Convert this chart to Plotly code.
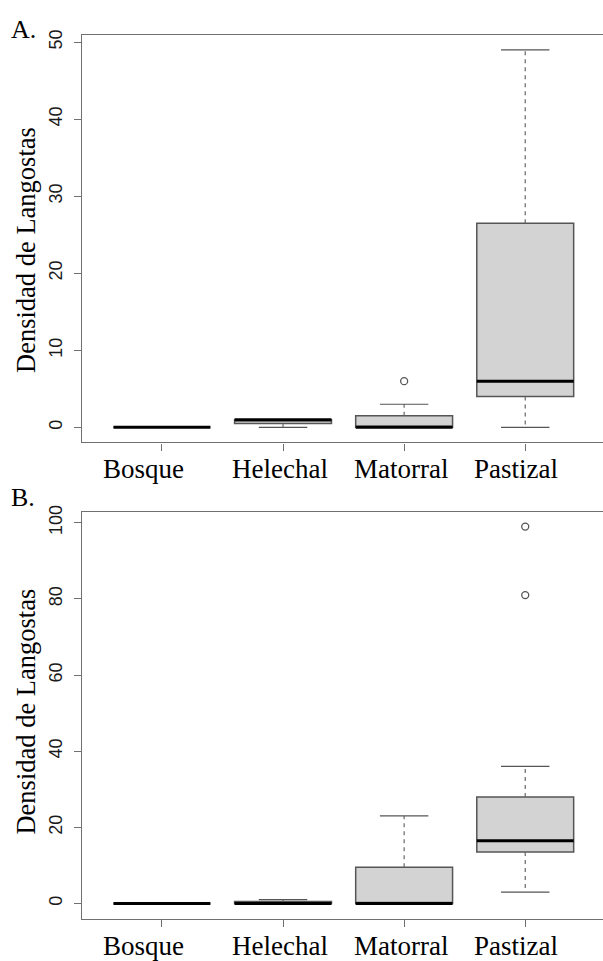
import plotly.graph_objects as go

# ---------------- data ----------------
categories = ["Bosque", "Helechal", "Matorral", "Pastizal"]
positions = [1, 2, 3, 4]

# Panel A
a_q1 = [0, 0.5, 0, 4]
a_median = [0, 1, 0, 6]
a_q3 = [0, 1, 1.5, 26.5]
a_lower = [0, 0, 0, 0]
a_upper = [0, 1, 3, 49]
a_out_x = [3]
a_out_y = [6]

# Panel B
b_q1 = [0, 0, 0, 13.5]
b_median = [0, 0, 0, 16.5]
b_q3 = [0, 0.5, 9.5, 28]
b_lower = [0, 0, 0, 3]
b_upper = [0, 1, 23, 36]
b_out_x = [4, 4]
b_out_y = [99, 81]

y_ticks_a = [0, 10, 20, 30, 40, 50]
y_ticks_b = [0, 20, 40, 60, 80, 100]
y_title = "Densidad de Langostas"
panel_labels = ["A.", "B."]

# ---------------- style ----------------
W, H = 603, 961
BOXW = 0.8
STAPLE = 0.4
FILL = "#d3d3d3"
EDGE = "#555555"
WHISK = "#666666"
FRAME = "#707070"
SERIF = "Liberation Serif, Times New Roman, serif"
SANS = "Liberation Sans, Arial, sans-serif"


def seg_lists(xs, y0s, y1s, half=None):
    X, Y = [], []
    for x, a, b in zip(xs, y0s, y1s):
        if half is None:
            X += [x, x, None]
            Y += [a, b, None]
        else:
            X += [x - half, x + half, None]
            Y += [a, a, None]
    return X, Y


fig = go.Figure()


def add_panel(xa, ya, q1, med, q3, lo, up, ox, oy):
    # boxes
    fig.add_trace(go.Box(
        x=positions, q1=q1, median=med, q3=q3,
        lowerfence=q1, upperfence=q3, width=BOXW,
        fillcolor=FILL, line=dict(color=EDGE, width=1.5),
        whiskerwidth=0, boxpoints=False, showlegend=False,
        xaxis=xa, yaxis=ya, hoverinfo="skip"))
    # whiskers (dashed)
    X1, Y1 = seg_lists(positions, q3, up)
    X2, Y2 = seg_lists(positions, q1, lo)
    fig.add_trace(go.Scatter(x=X1 + X2, y=Y1 + Y2, mode="lines",
                             line=dict(color=WHISK, width=1.2, dash="4px,4px"),
                             showlegend=False, xaxis=xa, yaxis=ya, hoverinfo="skip"))
    # staples
    X3, Y3 = seg_lists(positions, up, up, half=STAPLE / 2)
    X4, Y4 = seg_lists(positions, lo, lo, half=STAPLE / 2)
    fig.add_trace(go.Scatter(x=X3 + X4, y=Y3 + Y4, mode="lines",
                             line=dict(color=EDGE, width=1.2),
                             showlegend=False, xaxis=xa, yaxis=ya, hoverinfo="skip"))
    # medians
    X5, Y5 = seg_lists(positions, med, med, half=BOXW / 2)
    fig.add_trace(go.Scatter(x=X5, y=Y5, mode="lines",
                             line=dict(color="#000000", width=3),
                             showlegend=False, xaxis=xa, yaxis=ya, hoverinfo="skip"))
    # outliers
    fig.add_trace(go.Scatter(x=ox, y=oy, mode="markers",
                             marker=dict(symbol="circle-open", size=7,
                                         color=EDGE, line=dict(width=1.3)),
                             showlegend=False, xaxis=xa, yaxis=ya, hoverinfo="skip"))


add_panel("x", "y", a_q1, a_median, a_q3, a_lower, a_upper, a_out_x, a_out_y)
add_panel("x2", "y2", b_q1, b_median, b_q3, b_lower, b_upper, b_out_x, b_out_y)


def px_y(p):
    return (H - p) / H


x_dom = [82 / W, 1.0]
x_range = [0.34, 0.34 + (603 - 82) / 121.1]

common_x = dict(domain=x_dom, range=x_range, tickvals=positions, showticklabels=False,
                ticks="outside", ticklen=7, tickcolor=FRAME, tickwidth=1,
                showline=True, linecolor=FRAME, linewidth=1.3, mirror=True,
                showgrid=False, zeroline=False, fixedrange=True)
common_y = dict(ticks="outside", ticklen=7, tickcolor=FRAME, tickwidth=1,
                showline=True, linecolor=FRAME, linewidth=1.3, mirror=False,
                showgrid=False, zeroline=False, tickangle=-90,
                tickfont=dict(family=SANS, size=18, color="#1a1a1a"),
                ticklabelstandoff=5)

fig.update_layout(
    width=W, height=H, margin=dict(l=0, r=0, t=0, b=0),
    paper_bgcolor="white", plot_bgcolor="white", showlegend=False,
    xaxis=dict(anchor="y", **common_x),
    yaxis=dict(anchor="x", domain=[px_y(439.2), px_y(29)], range=[-1.96, 50.96],
               tickvals=y_ticks_a, **common_y),
    xaxis2=dict(anchor="y2", **common_x),
    yaxis2=dict(anchor="x2", domain=[px_y(918.3), px_y(508.7)], range=[-3.96, 102.96],
                tickvals=y_ticks_b, **common_y),
)

# x category labels (slightly shifted left as in the original)
label_shift = [-18, -3.5, -3.5, -9]
annots = []
for xr, ycen in (("x", 466), ("x2", 946)):
    for pos, lab, sh in zip(positions, categories, label_shift):
        annots.append(dict(x=pos, xref=xr, y=px_y(ycen), yref="paper", text=lab,
                           showarrow=False, xanchor="center", yanchor="middle",
                           xshift=sh, font=dict(family=SERIF, size=27, color="#000000")))

# y titles
for ycen in (245.5, 710):
    annots.append(dict(x=26 / W, xref="paper", y=px_y(ycen), yref="paper", text=y_title,
                       textangle=-90, showarrow=False, xanchor="center", yanchor="middle",
                       font=dict(family=SERIF, size=26.5, color="#000000")))

# panel labels
for lab, ycen in zip(panel_labels, (24, 495)):
    annots.append(dict(x=9 / W, xref="paper", y=px_y(ycen), yref="paper", text=lab,
                       showarrow=False, xanchor="left", yanchor="middle",
                       font=dict(family=SERIF, size=26, color="#000000")))

fig.update_layout(annotations=annots)
fig.write_html("out.html")
